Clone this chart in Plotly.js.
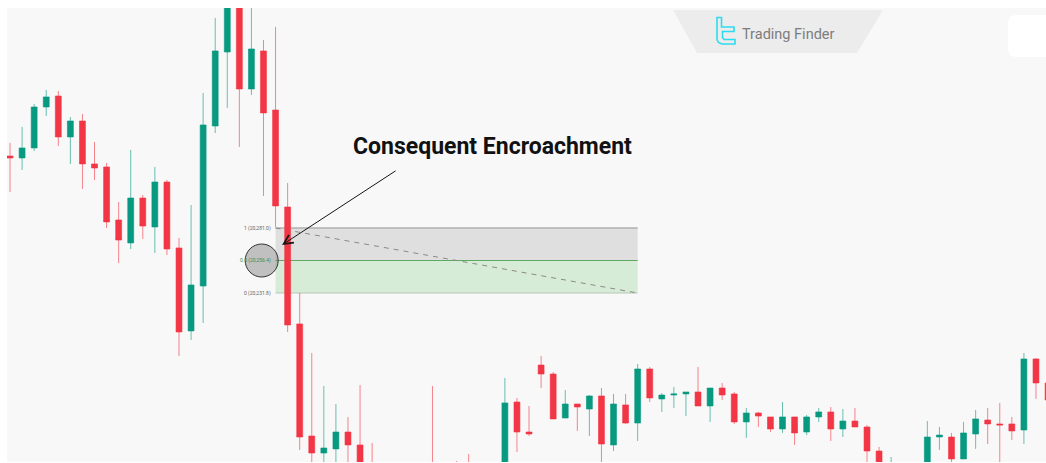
<!DOCTYPE html>
<html>
<head>
<meta charset="utf-8">
<script src="https://cdn.plot.ly/plotly-3.0.1.min.js"></script>
<style>html,body{margin:0;padding:0;background:#fff;}#chart{width:1046px;height:463px;}</style>
</head>
<body>
<div id="chart"></div>
<script>
// ---- Candle data (price values) ----
const open = [
20335.5, 20334.0, 20341.6, 20372.6, 20380.9, 20349.9, 20362.0, 20329.5, 20327.2, 20287.1,
20269.7, 20303.7, 20281.8, 20315.8, 20265.9, 20203.1, 20237.1, 20358.2, 20414.2, 20462.7,
20386.2, 20415.0, 20370.3, 20296.9, 20208.4, 20123.6, 20110.7, 20113.8, 20126.6, 20116.8,
20097.9, 20082.7, 20071.4, 20088.8, 20075.1, 20082.7, 20071.4, 20078.9, 20086.5, 20078.9,
20090.3, 20097.9, 20149.3, 20126.6, 20177.3, 20170.5, 20137.2, 20147.8, 20144.0, 20153.9,
20116.8, 20147.1, 20133.4, 20174.3, 20151.6, 20154.6, 20155.4, 20156.9, 20146.3, 20159.9,
20155.4, 20134.2, 20141.0, 20138.0, 20128.9, 20138.0, 20126.6, 20138.0, 20141.8, 20128.9,
20134.9, 20130.4, 20112.2, 20082.7, 20094.1, 20084.2, 20094.1, 20122.8, 20122.8, 20106.2,
20125.1, 20135.7, 20132.7, 20132.7, 20128.1, 20181.9, 20163.7
];
const high = [
20345.4, 20357.5, 20374.9, 20385.5, 20384.7, 20365.0, 20367.3, 20346.1, 20330.2, 20300.7,
20340.1, 20306.0, 20327.2, 20317.4, 20273.5, 20298.4, 20383.2, 20440.0, 20472.5, 20468.7,
20449.8, 20423.3, 20433.2, 20315.1, 20231.8, 20186.4, 20161.4, 20147.8, 20138.0, 20162.2,
20118.3, 20094.1, 20097.9, 20099.4, 20096.3, 20161.4, 20097.9, 20104.7, 20110.0, 20097.9,
20100.9, 20167.5, 20152.4, 20146.3, 20184.1, 20172.0, 20158.4, 20147.8, 20154.6, 20159.9,
20155.4, 20155.4, 20178.1, 20175.8, 20156.1, 20160.7, 20156.9, 20175.8, 20159.9, 20163.7,
20156.9, 20144.8, 20141.8, 20138.0, 20149.3, 20138.0, 20139.5, 20144.8, 20145.5, 20144.0,
20144.8, 20131.9, 20115.3, 20107.7, 20103.9, 20097.9, 20134.9, 20130.4, 20125.9, 20134.2,
20143.3, 20144.8, 20148.6, 20138.0, 20186.4, 20182.6, 20166.0
];
const low = [
20308.3, 20324.9, 20339.3, 20365.8, 20343.1, 20329.5, 20310.5, 20317.4, 20281.0, 20254.5,
20265.1, 20272.7, 20262.1, 20260.6, 20184.1, 20196.3, 20209.1, 20352.9, 20371.9, 20342.3,
20381.7, 20305.2, 20281.8, 20202.3, 20113.0, 20099.4, 20097.9, 20096.3, 20097.9, 20086.5,
20075.1, 20063.8, 20066.1, 20069.1, 20067.6, 20063.8, 20060.0, 20067.6, 20071.4, 20071.4,
20082.7, 20090.3, 20111.5, 20123.6, 20159.9, 20136.5, 20137.2, 20127.4, 20123.6, 20103.2,
20112.2, 20132.7, 20119.8, 20149.3, 20141.8, 20144.8, 20138.7, 20146.3, 20134.2, 20150.8,
20132.7, 20122.1, 20130.4, 20126.6, 20125.9, 20116.8, 20124.3, 20134.2, 20119.8, 20122.8,
20130.4, 20103.9, 20086.5, 20075.1, 20078.9, 20076.7, 20090.3, 20113.0, 20103.9, 20106.2,
20113.8, 20117.5, 20103.9, 20120.6, 20117.5, 20151.6, 20147.1
];
const close = [
20334.0, 20341.6, 20372.6, 20380.2, 20349.9, 20362.0, 20329.5, 20326.4, 20285.6, 20271.9,
20303.7, 20282.5, 20315.8, 20265.1, 20202.3, 20237.9, 20359.0, 20415.0, 20461.2, 20386.2,
20416.5, 20368.1, 20297.7, 20207.6, 20122.8, 20110.7, 20114.5, 20126.6, 20116.8, 20094.1,
20082.7, 20071.4, 20090.3, 20075.1, 20084.2, 20071.4, 20078.9, 20075.1, 20078.9, 20090.3,
20097.9, 20148.6, 20126.6, 20125.1, 20170.5, 20136.5, 20147.8, 20145.5, 20153.9, 20117.5,
20147.8, 20133.4, 20174.3, 20152.4, 20154.6, 20155.4, 20156.9, 20146.3, 20159.9, 20154.6,
20134.2, 20141.0, 20138.7, 20128.9, 20138.0, 20125.9, 20138.0, 20141.8, 20128.9, 20134.9,
20130.4, 20112.2, 20094.1, 20097.9, 20084.2, 20091.8, 20122.8, 20124.3, 20106.2, 20125.9,
20136.5, 20132.7, 20131.9, 20127.4, 20181.9, 20163.7, 20150.8
];
const candleIndex = open.map((_, i) => i);

// ---- Fibonacci / consequent encroachment tool ----
const fibLevels = [1, 0.5, 0];
const fibPrices = [20281.0, 20256.4, 20231.8];
const fibLabels = ["1 (20,281.0)", "0.5 (20,256.4)", "0 (20,231.8)"];
const fibStart = 22, fibEnd = 52;
const ceCandle = 20.85;           // circle marker position (bar index)
const arrowTip = [22.54, 20268.2]; // arrow tip (bar index, price)
const titleText = "Consequent Encroachment";
const brandText = "Trading Finder";

// ---- layout helpers (pixel -> paper, for decorations only) ----
const W = 1046, H = 463, ML = 7, MT = 8, MR = 0, MB = 1;
const PW = W - ML - MR, PH = H - MT - MB;
const px = x => (x - ML) / PW;
const py = y => (H - MB - y) / PH;
function path(pts, close) {
  return pts.map((p, i) => (i ? 'L' : 'M') + px(p[0]).toFixed(5) + ',' + py(p[1]).toFixed(5)).join(' ') + (close ? ' Z' : '');
}

const RED = '#F23645', GREEN = '#089981';

const trace = {
  type: 'candlestick',
  x: candleIndex, open: open, high: high, low: low, close: close,
  increasing: {line: {color: 'rgba(8,153,129,0.6)', width: 1}, fillcolor: GREEN},
  decreasing: {line: {color: 'rgba(242,54,69,0.6)', width: 1}, fillcolor: RED},
  whiskerwidth: 0,
  hoverinfo: 'skip', showlegend: false
};

const shapes = [
  // fib upper (gray) zone
  {type: 'rect', xref: 'x', yref: 'y', layer: 'below', x0: fibStart, x1: fibEnd, y0: fibPrices[1], y1: fibPrices[0],
   fillcolor: '#dfdfdf', line: {width: 0}},
  // fib lower (green) zone
  {type: 'rect', xref: 'x', yref: 'y', layer: 'below', x0: fibStart, x1: fibEnd, y0: fibPrices[2], y1: fibPrices[1],
   fillcolor: '#d7ecd7', line: {width: 0}},
  {type: 'line', xref: 'x', yref: 'y', layer: 'below', x0: fibStart, x1: fibEnd, y0: fibPrices[0], y1: fibPrices[0],
   line: {color: '#b0b0b0', width: 1.5}},
  {type: 'line', xref: 'x', yref: 'y', layer: 'below', x0: fibStart, x1: fibEnd, y0: fibPrices[1], y1: fibPrices[1],
   line: {color: '#5ea862', width: 1}},
  {type: 'line', xref: 'x', yref: 'y', layer: 'below', x0: fibStart, x1: fibEnd, y0: fibPrices[2], y1: fibPrices[2],
   line: {color: '#b5c6b5', width: 1}},
  // diagonal dashed trend line
  {type: 'line', xref: 'x', yref: 'y', layer: 'below', x0: fibStart, x1: fibEnd, y0: fibPrices[0], y1: fibPrices[2],
   line: {color: '#8a8a8a', width: 1, dash: '5px,5px'}},
  // circle at the 0.5 level
  {type: 'circle', xref: 'x', yref: 'y', xsizemode: 'pixel', ysizemode: 'pixel',
   xanchor: ceCandle, yanchor: fibPrices[1], x0: -16.5, x1: 16.5, y0: -16.5, y1: 16.5,
   fillcolor: 'rgba(135,135,135,0.5)', line: {color: '#333', width: 1}},
  // brand trapezoid
  {type: 'path', xref: 'paper', yref: 'paper', layer: 'above',
   path: path([[673, 10], [883, 10], [857, 53], [697, 53]], true),
   fillcolor: '#ececec', line: {width: 0}},
  // white rounded box at right
  {type: 'path', xref: 'paper', yref: 'paper', layer: 'above',
   path: path([[1015, 15], [1050, 15], [1050, 57], [1015, 57], [1010, 55], [1008, 50], [1008, 22], [1010, 17]], true),
   fillcolor: '#ffffff', line: {width: 0}},
  // brand icon (outline)
  {type: 'path', xref: 'paper', yref: 'paper', layer: 'above',
   path: path([[717, 17.5], [721.5, 17.5], [721.5, 27], [734, 27], [734, 31.5], [722.5, 31.5], [722.5, 37.5],
               [724, 39.5], [735, 39.5], [735, 44], [722, 44], [718.5, 42.5], [717, 39.5]], true),
   fillcolor: 'rgba(0,0,0,0)', line: {color: '#2bdcf0', width: 1.6}}
];

const annotations = [];
fibLabels.forEach((t, i) => {
  annotations.push({
    xref: 'x', yref: 'y', x: fibStart, y: fibPrices[i], text: t, showarrow: false,
    xanchor: 'right', yanchor: 'middle', xshift: -3,
    font: {family: 'Roboto, Arial, sans-serif', size: 5, color: fibLevels[i] === 0.5 ? '#3f8f45' : '#666'}
  });
});
annotations.push({
  xref: 'x', yref: 'y', x: arrowTip[0], y: arrowTip[1], text: '', showarrow: true,
  ax: 115, ay: -75, arrowhead: 5, arrowsize: 1.8, arrowwidth: 1, arrowcolor: '#151515'
});
annotations.push({
  xref: 'paper', yref: 'paper', x: px(492), y: py(146), text: '<b>' + titleText + '</b>', showarrow: false,
  xanchor: 'center', yanchor: 'middle',
  font: {family: 'Roboto, Arial, sans-serif', size: 23, color: '#111'}
});
annotations.push({
  xref: 'paper', yref: 'paper', x: px(740), y: py(34), text: brandText, showarrow: false,
  xanchor: 'left', yanchor: 'middle',
  font: {family: 'Roboto, Arial, sans-serif', size: 14.5, color: '#7d7d7d'}
});

const layout = {
  width: W, height: H,
  margin: {l: ML, r: MR, t: MT, b: MB, pad: 0},
  paper_bgcolor: '#ffffff', plot_bgcolor: '#f8f8f8',
  showlegend: false, hovermode: false, boxgap: 0.3,
  xaxis: {range: [-0.25, 85.83], rangeslider: {visible: false}, showgrid: false, zeroline: false,
          showticklabels: false, showline: false, ticks: '', fixedrange: true},
  yaxis: {range: [20103.9, 20447.5], showgrid: false, zeroline: false, showticklabels: false,
          showline: false, ticks: '', fixedrange: true},
  shapes: shapes, annotations: annotations
};

Plotly.newPlot('chart', [trace], layout, {displayModeBar: false, staticPlot: true});
</script>
</body>
</html>
